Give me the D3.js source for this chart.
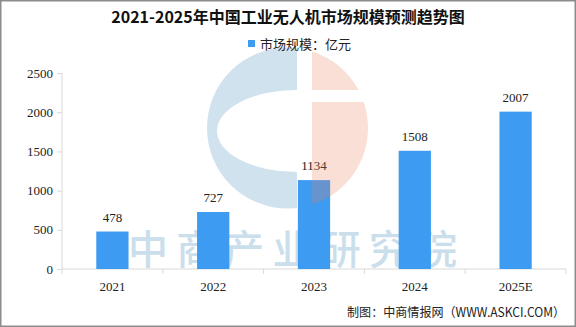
<!DOCTYPE html>
<html><head><meta charset="utf-8">
<script src="https://cdn.jsdelivr.net/npm/d3@7"></script>
<style>
html,body{margin:0;padding:0;background:#fff;}
svg{display:block;}
text{font-family:"Noto Sans CJK SC","DejaVu Sans",sans-serif;}
text.num{font-family:"Liberation Serif","DejaVu Serif",serif;}
</style></head>
<body><svg id="c" width="576" height="327"></svg>
<script>
const categories = ["2021","2022","2023","2024","2025E"];
const values = [478, 727, 1134, 1508, 2007];
const yTicks = [0, 500, 1000, 1500, 2000, 2500];
const title = "2021-2025年中国工业无人机市场规模预测趋势图";
const legendLabel = "市场规模：亿元";
const source = "制图：中商情报网（WWW.ASKCI.COM）";
const watermarkText = "中商产业研究院";

(function(){
const svg = d3.select("#c");
const W = 576, H = 327;
const pLeft = 62, pRight = 566, pTop = 73, pBottom = 269;

svg.append("rect").attr("x",0.75).attr("y",0.75).attr("width",W-1.5).attr("height",H-1.5)
  .attr("fill","#fff").attr("stroke","#8c8c8c").attr("stroke-width",1.5);

const x = d3.scaleBand().domain(categories).range([pLeft,pRight]).paddingInner(0.68).paddingOuter(0.34);
const xb = d3.scaleBand().domain(categories).range([pLeft,pRight]).padding(0);
const y = d3.scaleLinear().domain([0,2500]).range([pBottom,pTop]);

// watermark text (behind bars)
svg.append("text").attr("x",128).attr("y",264)
  .attr("font-size",40).attr("font-weight",500).attr("fill","#cadeeb")
  .attr("textLength",329).attr("lengthAdjust","spacing")
  .text(watermarkText);

// y axis
const yAxis = svg.append("g").attr("transform",`translate(${pLeft},0)`)
  .call(d3.axisLeft(y).tickValues(yTicks).tickSize(5).tickPadding(4).tickFormat(d3.format("d")));
yAxis.select(".domain").attr("stroke","#d9d9d9").attr("d",`M0,${pTop}V${pBottom}`);
yAxis.selectAll(".tick line").attr("stroke","#d9d9d9");
yAxis.selectAll(".tick text").attr("class","num").attr("fill","#222").attr("font-size",13);

// x axis
const xAxis = svg.append("g").attr("transform",`translate(0,${pBottom})`)
  .call(d3.axisBottom(xb).tickSize(0).tickPadding(13));
xAxis.select(".domain").attr("stroke","#d9d9d9").attr("d",`M${pLeft},0H${pRight}`);
xAxis.selectAll(".tick text").attr("class","num").attr("fill","#222").attr("font-size",13);
xAxis.selectAll(".sep").data(d3.range(categories.length+1)).enter().append("line")
  .attr("x1",i=>pLeft+i*xb.step()).attr("x2",i=>pLeft+i*xb.step())
  .attr("y1",0).attr("y2",5).attr("stroke","#d9d9d9");

// bars
svg.append("g").selectAll("rect").data(values).enter().append("rect")
  .attr("x",(d,i)=>x(categories[i])).attr("width",x.bandwidth())
  .attr("y",d=>y(d)).attr("height",d=>pBottom-y(d)).attr("fill","#3d9bf2");

// value labels
svg.append("g").selectAll("text").data(values).enter().append("text")
  .attr("class","num")
  .attr("x",(d,i)=>x(categories[i])+x.bandwidth()/2).attr("y",d=>y(d)-10)
  .attr("text-anchor","middle").attr("font-size",13).attr("fill","#222")
  .text(d=>d);

// logo watermark (on top, translucent)
const cx = 287.5, cy = 128, r = 80.5;
const defs = svg.append("defs");
defs.append("clipPath").attr("id","circ").append("circle").attr("cx",cx).attr("cy",cy).attr("r",r);
const logo = svg.append("g").attr("clip-path","url(#circ)");
logo.append("path")
  .attr("d",`M${cx-r-2},${cy-r-2}H297V90A80,41 0 0 0 297,172V${cy+r+2}H${cx-r-2}Z`)
  .attr("fill","#2b7bb0").attr("fill-opacity",0.22);
logo.append("path")
  .attr("d",`M312,${cy-r-2}H${cx+r+2}V90H312Z M312,102H${cx+r+2}V${cy+r+2}H312Z`)
  .attr("fill","#e8805a").attr("fill-opacity",0.25);

// title
svg.append("text").attr("x",288).attr("y",23).attr("text-anchor","middle")
  .attr("font-size",16).attr("font-weight","bold").attr("fill","#111").text(title);

// legend
svg.append("rect").attr("x",248).attr("y",40).attr("width",7).attr("height",7).attr("fill","#3d9bf2");
svg.append("text").attr("x",260).attr("y",48.5).attr("font-size",13).attr("fill","#222").text(legendLabel);

// source
svg.append("text").attr("x",565).attr("y",317).attr("text-anchor","end")
  .attr("font-size",12.5).attr("fill","#222")
  .attr("textLength",218).attr("lengthAdjust","spacingAndGlyphs").text(source);
})();
</script></body></html>
